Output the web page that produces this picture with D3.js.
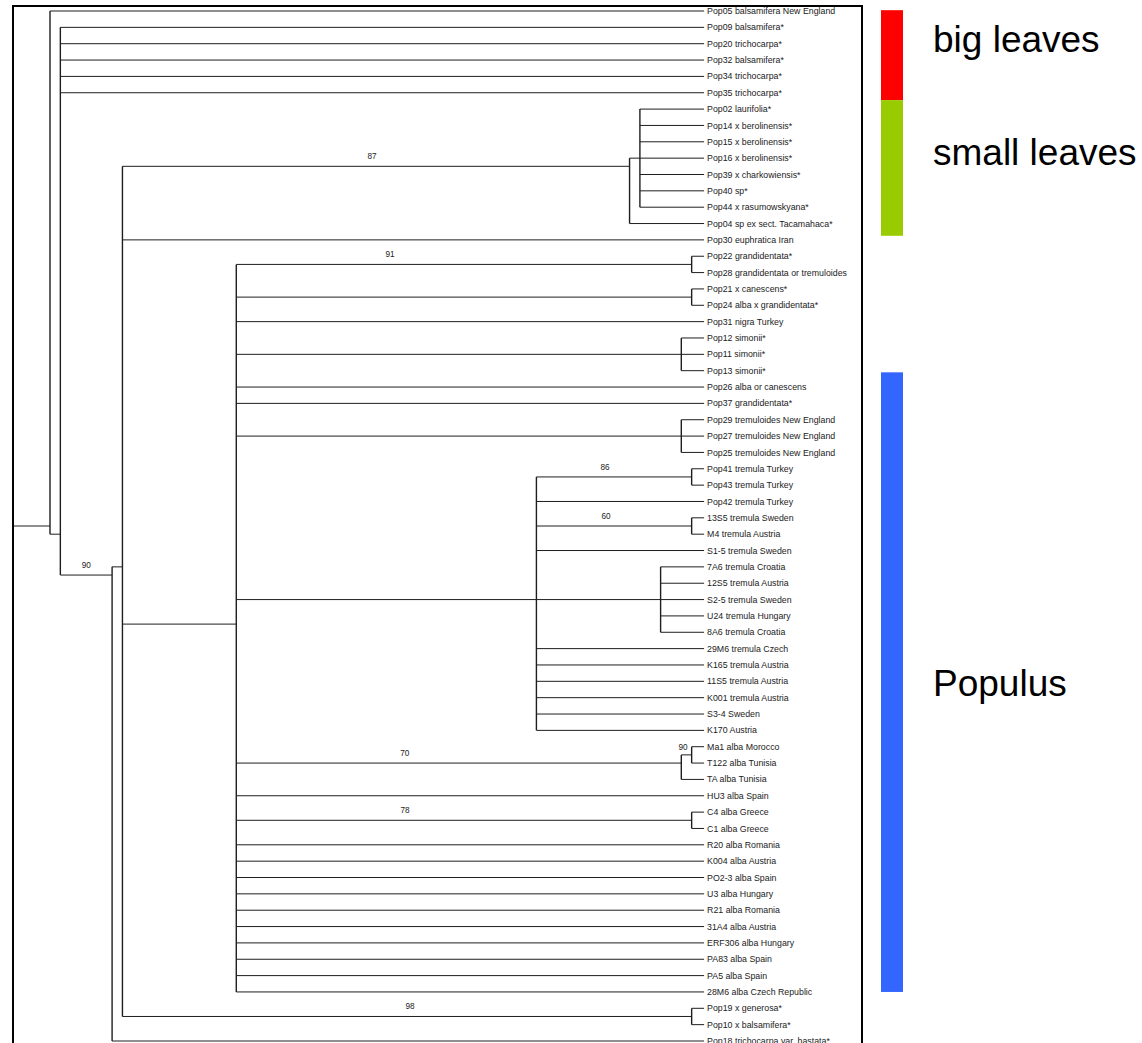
<!DOCTYPE html>
<html>
<head>
<meta charset="utf-8">
<script src="https://cdn.jsdelivr.net/npm/d3@7/dist/d3.min.js"></script>
<style>
  body { margin: 0; background: #fff; }
  svg { display: block; }
</style>
</head>
<body>
<div id="chart"></div>
<script>
// leaf labels, top to bottom
const taxa = [
  'Pop05 balsamifera New England', 'Pop09 balsamifera*', 'Pop20 trichocarpa*', 'Pop32 balsamifera*',
  'Pop34 trichocarpa*', 'Pop35 trichocarpa*', 'Pop02 laurifolia*', 'Pop14 x berolinensis*',
  'Pop15 x berolinensis*', 'Pop16 x berolinensis*', 'Pop39 x charkowiensis*', 'Pop40 sp*',
  'Pop44 x rasumowskyana*', 'Pop04 sp ex sect. Tacamahaca*', 'Pop30 euphratica Iran', 'Pop22 grandidentata*',
  'Pop28 grandidentata or tremuloides', 'Pop21 x canescens*', 'Pop24 alba x grandidentata*', 'Pop31 nigra Turkey',
  'Pop12 simonii*', 'Pop11 simonii*', 'Pop13 simonii*', 'Pop26 alba or canescens',
  'Pop37 grandidentata*', 'Pop29 tremuloides New England', 'Pop27 tremuloides New England', 'Pop25 tremuloides New England',
  'Pop41 tremula Turkey', 'Pop43 tremula Turkey', 'Pop42 tremula Turkey', '13S5 tremula Sweden',
  'M4 tremula Austria', 'S1-5 tremula Sweden', '7A6 tremula Croatia', '12S5 tremula Austria',
  'S2-5 tremula Sweden', 'U24 tremula Hungary', '8A6 tremula Croatia', '29M6 tremula Czech',
  'K165 tremula Austria', '11S5 tremula Austria', 'K001 tremula Austria', 'S3-4 Sweden',
  'K170 Austria', 'Ma1 alba Morocco', 'T122 alba Tunisia', 'TA alba Tunisia',
  'HU3 alba Spain', 'C4 alba Greece', 'C1 alba Greece', 'R20 alba Romania',
  'K004 alba Austria', 'PO2-3 alba Spain', 'U3 alba Hungary', 'R21 alba Romania',
  '31A4 alba Austria', 'ERF306 alba Hungary', 'PA83 alba Spain', 'PA5 alba Spain',
  '28M6 alba Czech Republic', 'Pop19 x generosa*', 'Pop10 x balsamifera*', 'Pop18 trichocarpa var. hastata*'
]

// clades as newick on leaf indices, bootstrap support after the closing paren
const tacamahacaClade = '((6,7,8,9,10,11,12),13)87'
const tremulaClade = '((28,29)86,30,(31,32)60,33,(34,35,36,37,38),39,40,41,42,43,44)'
const albaClade = '((15,16)91,(17,18),19,(20,21,22),23,24,(25,26,27),' + tremulaClade +
  ',((45,46)90,47)70,48,(49,50)78,51,52,53,54,55,56,57,58,59,60)'
const topology = '(0,(1,2,3,4,5,((' + tacamahacaClade + ',14,' + albaClade + ',(61,62)98),63)90))'

// colour bars on the right: name, colour, leaf rows covered
const groupNames = ['big leaves', 'small leaves', 'Populus']
const groupColors = ['#ff0000', '#99cc00', '#3366ff']
const groupRows = [[-0.05, 5.45], [5.45, 13.75], [22.1, 60]]

const width = 1142
const height = 1043
const frameLeft = 13
const frameTop = 6
const frameRight = 862

function parseNewick (s) {
  let i = 0
  function readNum () {
    let num = ''
    while (i < s.length && /[0-9]/.test(s[i])) num += s[i++]
    return num
  }
  function node () {
    if (s[i] === '(') {
      i++
      let children = [node()]
      while (s[i] === ',') { i++; children.push(node()) }
      i++ // ')'
      let num = readNum()
      return { children: children, support: num ? +num : null }
    }
    return { leaf: +readNum(), support: null }
  }
  return node()
}

let root = d3.hierarchy(parseNewick(topology))
let nLeaves = taxa.length

// rows top to bottom, node depth from number of leaves under it (cladogram)
let y = d3.scaleLinear().domain([0, nLeaves - 1]).range([11, 1041])
let x = d3.scaleLinear().domain([0, nLeaves - 1]).range([702, 50])
let tipX = x(-0.2)

root.eachAfter(function (d) {
  if (!d.children) {
    d.y = y(d.data.leaf)
    d.x = tipX
  } else {
    let lv = d.leaves()
    d.y = d3.mean(lv, function (l) { return y(l.data.leaf) })
    d.x = x(lv.length - 1)
  }
})

let svg = d3.select('#chart').append('svg')
  .attr('width', width)
  .attr('height', height)

svg.append('defs').append('clipPath').attr('id', 'clip')
  .append('rect')
  .attr('x', frameLeft).attr('y', frameTop)
  .attr('width', frameRight - frameLeft - 1).attr('height', height)

let g = svg.append('g').attr('clip-path', 'url(#clip)')

// horizontal branches
let links = root.descendants().filter(function (d) { return d.parent })
g.selectAll('line.h')
  .data(links)
  .enter()
  .append('line')
  .attr('class', 'h')
  .attr('x1', function (d) { return d.parent.x })
  .attr('x2', function (d) { return d.x })
  .attr('y1', function (d) { return d.y })
  .attr('y2', function (d) { return d.y })
  .attr('stroke', '#1e1e1e')
  .attr('stroke-width', 1)

// root stem
g.append('line')
  .attr('x1', frameLeft).attr('x2', root.x)
  .attr('y1', root.y).attr('y2', root.y)
  .attr('stroke', '#1e1e1e')
  .attr('stroke-width', 1)

// vertical connectors
let inner = root.descendants().filter(function (d) { return d.children })
g.selectAll('line.v')
  .data(inner)
  .enter()
  .append('line')
  .attr('class', 'v')
  .attr('x1', function (d) { return d.x })
  .attr('x2', function (d) { return d.x })
  .attr('y1', function (d) { return d3.min(d.children, function (c) { return c.y }) })
  .attr('y2', function (d) { return d3.max(d.children, function (c) { return c.y }) })
  .attr('stroke', '#1e1e1e')
  .attr('stroke-width', 1.4)

// leaf names
g.selectAll('text.leaf')
  .data(root.leaves())
  .enter()
  .append('text')
  .attr('class', 'leaf')
  .attr('x', function (d) { return d.x + 3 })
  .attr('y', function (d) { return d.y })
  .attr('dy', '0.35em')
  .attr('font-family', 'Liberation Sans, Arial, sans-serif')
  .attr('font-size', 8.8)
  .attr('fill', '#222')
  .text(function (d) { return taxa[d.data.leaf] })

// support values, roughly mid-branch; the ones under the alba/tremula node sit further left
let nudge = { 91: -74, 70: -54, 78: -59, 86: -9, 60: -8, 87: -4, 98: 3 }
let shortBranch = function (d) { return d.x - d.parent.x < 30 }
let supported = links.filter(function (d) { return d.data.support !== null })
g.selectAll('text.support')
  .data(supported)
  .enter()
  .append('text')
  .attr('class', 'support')
  .attr('x', function (d) {
    if (shortBranch(d)) return d.x - 4
    return (d.parent.x + d.x) / 2 + (nudge[d.data.support] || 0)
  })
  .attr('y', function (d) {
    if (shortBranch(d)) return d.children[0].y + 3
    return d.y - 7
  })
  .attr('text-anchor', function (d) { return shortBranch(d) ? 'end' : 'middle' })
  .attr('font-family', 'Liberation Sans, Arial, sans-serif')
  .attr('font-size', 8.2)
  .attr('fill', '#222')
  .text(function (d) { return d.data.support })

// frame
svg.append('path')
  .attr('d', 'M' + frameLeft + ',' + height + 'V' + frameTop + 'H' + frameRight + 'V' + height)
  .attr('fill', 'none')
  .attr('stroke', '#000')
  .attr('stroke-width', 2)

// group bars and labels
let labelRows = [2.53, 9.43, 41.9]
let legend = svg.append('g')
legend.selectAll('rect')
  .data(groupNames)
  .enter()
  .append('rect')
  .attr('x', 881)
  .attr('width', 22)
  .attr('y', function (d, i) { return y(groupRows[i][0]) })
  .attr('height', function (d, i) { return y(groupRows[i][1]) - y(groupRows[i][0]) })
  .attr('fill', function (d, i) { return groupColors[i] })

legend.selectAll('text')
  .data(groupNames)
  .enter()
  .append('text')
  .attr('x', 933)
  .attr('y', function (d, i) { return y(labelRows[i]) })
  .attr('font-family', 'Liberation Sans, Arial, sans-serif')
  .attr('font-size', 37)
  .attr('fill', '#000')
  .text(function (d) { return d })
</script>
</body>
</html>
